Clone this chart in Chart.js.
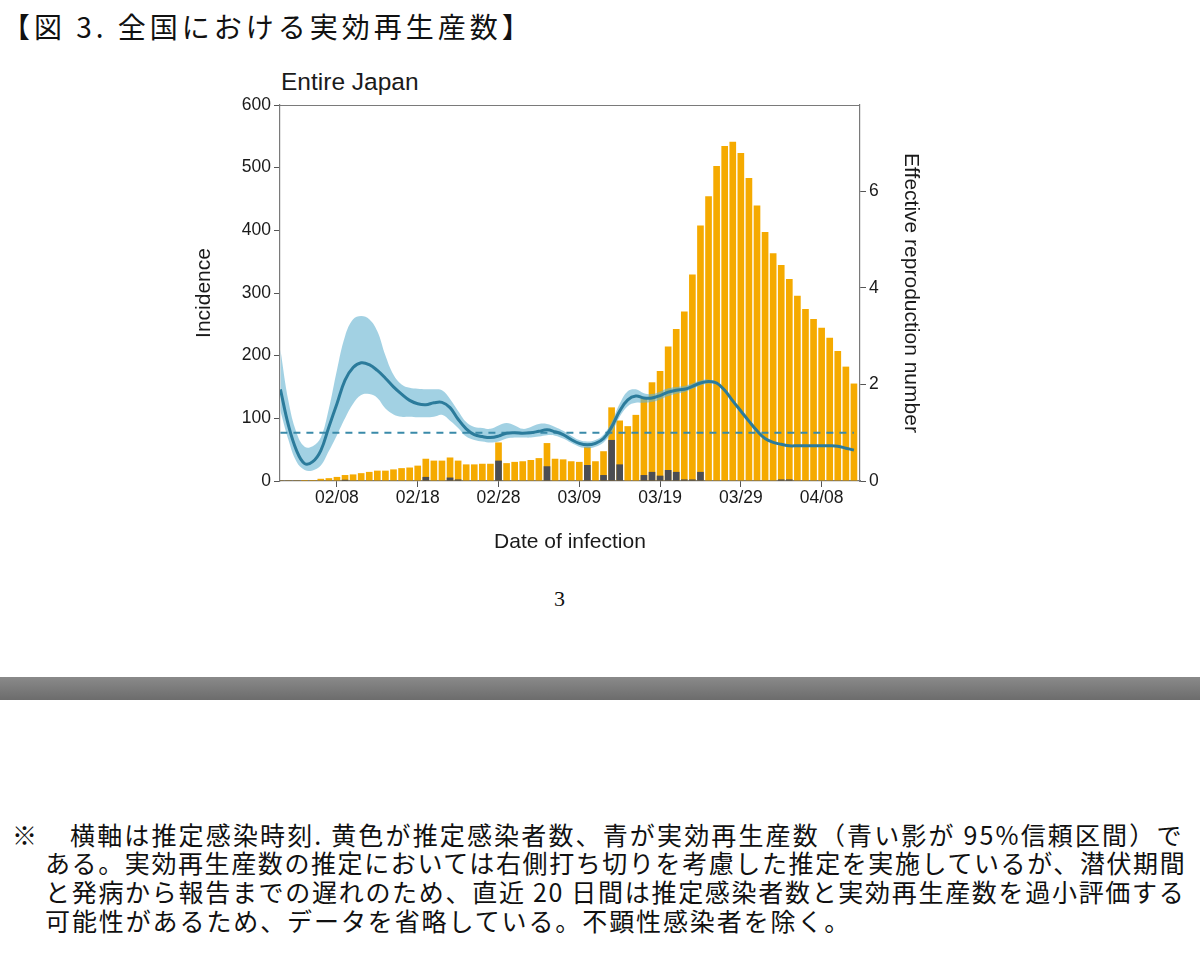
<!DOCTYPE html>
<html><head><meta charset="utf-8">
<script src="https://cdn.jsdelivr.net/npm/chart.js@4.4.0/dist/chart.umd.min.js"></script>
<style>
html,body{margin:0;padding:0;background:#fff;}
body{width:1200px;height:962px;position:relative;overflow:hidden;font-family:'Liberation Sans',Arial,sans-serif;color:#111;}
.jp{font-family:'Noto Sans CJK JP',sans-serif;position:absolute;white-space:pre;line-height:1;color:#111;}
.fn{font-size:25px;}
</style></head><body>
<div class="jp" style="left:2px;top:12px;font-size:28px;letter-spacing:4px;">【図 3. 全国における実効再生産数】</div>
<div style="position:absolute;left:281px;top:70px;font-size:24.5px;line-height:1;color:#1a1a1a;">Entire Japan</div>
<canvas id="c" width="760" height="510" style="position:absolute;left:180px;top:60px;"></canvas>
<div style="position:absolute;left:554px;top:588px;font-family:'Liberation Serif',serif;font-size:22px;line-height:1;">3</div>
<div style="position:absolute;left:0;top:677px;width:1200px;height:23px;background:linear-gradient(#8a8a8a,#6c6c6c);"></div>
<div class="jp fn" style="left:12px;top:822px;">※</div>
<div class="jp fn" style="left:70px;top:822px;letter-spacing:2.15px;">横軸は推定感染時刻. 黄色が推定感染者数、青が実効再生産数（青い影が 95%信頼区間）で</div>
<div class="jp fn" style="left:45px;top:850px;letter-spacing:1.6px;">ある。実効再生産数の推定においては右側打ち切りを考慮した推定を実施しているが、潜伏期間</div>
<div class="jp fn" style="left:45px;top:879px;letter-spacing:1.7px;">と発病から報告までの遅れのため、直近 20 日間は推定感染者数と実効再生産数を過小評価する</div>
<div class="jp fn" style="left:45px;top:908px;letter-spacing:1.9px;">可能性があるため、データを省略している。不顕性感染者を除く。</div>
<script>
const dates = ['02/01','02/02','02/03','02/04','02/05','02/06','02/07','02/08','02/09','02/10',
'02/11','02/12','02/13','02/14','02/15','02/16','02/17','02/18','02/19','02/20',
'02/21','02/22','02/23','02/24','02/25','02/26','02/27','02/28','02/29','03/01',
'03/02','03/03','03/04','03/05','03/06','03/07','03/08','03/09','03/10','03/11',
'03/12','03/13','03/14','03/15','03/16','03/17','03/18','03/19','03/20','03/21',
'03/22','03/23','03/24','03/25','03/26','03/27','03/28','03/29','03/30','03/31',
'04/01','04/02','04/03','04/04','04/05','04/06','04/07','04/08','04/09','04/10',
'04/11','04/12'];
const incidence = [0,0,0,0.5,1,3,4,6,9,10,
12,14,16,16,18,20,21,24,35,32,
32,37,32,26,26,27,27,61,28,30,
31,33,36,60,35,34,31,30,54,31,
47,117,96,87,105,132,157,175,214,242,
270,329,407,454,502,534,541,523,483,439,
397,363,344,322,295,274,258,244,228,207,
182,155];
const importedCases = [0,0,0,0,0,0,0,0,1.5,0,
0,0,0,0,0,0,0,0,6,0,
0,5,2,0,0,0,0,32,0,0,
0,0,0,23,0,0,0,0,25,0,
9,65,26,0,0,9,14,8,17,14,
2,2,14,0,0,0,0,0,0,0,
0,0,2,2,0,0,0,0,0,0,
0,0];
const rtMean = [1.9,1.15,0.63,0.36,0.4,0.63,1.12,1.6,2.09,2.35,
2.45,2.41,2.29,2.13,1.95,1.8,1.67,1.6,1.58,1.62,
1.63,1.52,1.28,1.08,0.96,0.92,0.9,0.93,0.99,1.0,
0.99,1.0,1.03,1.06,1.02,0.96,0.86,0.78,0.75,0.78,
0.88,1.12,1.45,1.68,1.76,1.72,1.72,1.77,1.84,1.88,
1.9,1.96,2.03,2.06,2.03,1.88,1.66,1.45,1.24,1.04,
0.88,0.8,0.76,0.73,0.73,0.73,0.73,0.73,0.73,0.72,
0.68,0.64];
const rtUpper = [2.72,1.65,1.0,0.71,0.72,0.9,1.5,2.3,3.0,3.35,
3.42,3.35,3.1,2.6,2.2,2.0,1.93,1.91,1.9,1.9,
1.88,1.7,1.45,1.22,1.12,1.1,1.08,1.15,1.2,1.15,
1.08,1.12,1.18,1.18,1.12,1.04,0.94,0.85,0.82,0.85,
0.96,1.22,1.6,1.86,1.9,1.82,1.8,1.85,1.92,1.95,
1.97,2.02,2.08,2.1,2.07,null,null,null,null,null,
null,null,null,null,null,null,null,null,null,null,
null,null];
const rtLower = [1.45,0.85,0.4,0.23,0.22,0.32,0.62,0.95,1.3,1.6,
1.78,1.8,1.72,1.5,1.38,1.33,1.33,1.32,1.32,1.33,
1.37,1.25,1.1,0.92,0.85,0.82,0.8,0.82,0.88,0.9,
0.9,0.9,0.92,0.95,0.94,0.88,0.79,0.71,0.68,0.71,
0.8,1.0,1.33,1.55,1.62,1.62,1.64,1.69,1.76,1.81,
1.84,1.91,1.98,2.02,2.0,null,null,null,null,null,
null,null,null,null,null,null,null,null,null,null,
null,null];
const xTickLabels = ['02/08','02/18','02/28','03/09','03/19','03/29','04/08'];
const incidenceTicks = [0,100,200,300,400,500,600];
const rtTicks = [0,2,4,6];
const rtThreshold = 1;

const pts = arr => arr.map((v,i)=>({x:i,y:v}));
const thresholdLine = dates.map((d,i)=>({x:i,y:rtThreshold}));

Chart.defaults.font.family = "'Liberation Sans', Arial, sans-serif";
Chart.defaults.color = '#1a1a1a';

const boxPlugin = {id:'box', afterDatasetsDraw(chart){
  const {ctx, chartArea:a} = chart;
  ctx.save(); ctx.strokeStyle='#7a7a7a'; ctx.lineWidth=1.2;
  ctx.beginPath(); ctx.moveTo(a.left, a.top+0.5); ctx.lineTo(a.right, a.top+0.5); ctx.stroke();
  ctx.restore();
}};

const tickGrid = {display:true, drawOnChartArea:false, color:'#555', tickLength:6, offset:false};
const border = {display:true, color:'#7a7a7a', width:1.2};

new Chart(document.getElementById('c'), {
  type:'bar',
  data:{datasets:[
    {type:'line', data:pts(rtMean), yAxisID:'y1', borderColor:'#2b7b9b', borderWidth:3, pointRadius:0, tension:0.4, fill:false, order:0},
    {type:'line', data:thresholdLine, yAxisID:'y1', borderColor:'#3a8aa9', borderWidth:2, borderDash:[7,6], pointRadius:0, fill:false, order:1},
    {type:'line', data:pts(rtUpper), yAxisID:'y1', borderWidth:0, borderColor:'rgba(0,0,0,0)', pointRadius:0, tension:0.4, fill:'+1', backgroundColor:'rgba(100,178,208,0.6)', order:2},
    {type:'line', data:pts(rtLower), yAxisID:'y1', borderWidth:0, borderColor:'rgba(0,0,0,0)', pointRadius:0, tension:0.4, fill:false, order:3},
    {type:'bar', data:pts(importedCases), yAxisID:'y', backgroundColor:'#4b4d53', barThickness:6, grouped:false, order:4},
    {type:'bar', data:pts(incidence), yAxisID:'y', backgroundColor:'#f5aa00', barThickness:6, grouped:false, order:5}
  ]},
  options:{
    responsive:false, animation:false, devicePixelRatio:1,
    layout:{padding:{top:45,left:0,right:0,bottom:0}},
    plugins:{legend:{display:false}, tooltip:{enabled:false}, title:{display:false}},
    scales:{
      x:{type:'linear', min:-0.05, max:71.75, offset:false, grid:tickGrid, border:border,
        afterBuildTicks:s=>{ s.ticks = xTickLabels.map(l=>({value:dates.indexOf(l)})); },
        ticks:{autoSkip:false, maxRotation:0, padding:1, font:{size:17.5}, callback:v=>dates[v]},
        title:{display:true, text:'Date of infection', font:{size:21}, padding:{top:0,bottom:15}},
        afterFit:s=>{ s.height = 89; }
      },
      y:{type:'linear', position:'left', min:0, max:600, grid:tickGrid, border:border,
        afterBuildTicks:s=>{ s.ticks = incidenceTicks.map(v=>({value:v})); },
        ticks:{padding:3, font:{size:17.5}},
        title:{display:true, text:'Incidence', font:{size:21}, padding:{top:12,bottom:0}},
        afterFit:s=>{ s.width = 100; }
      },
      y1:{type:'linear', position:'right', min:0, max:7.79, grid:tickGrid, border:border,
        afterBuildTicks:s=>{ s.ticks = rtTicks.map(v=>({value:v})); },
        ticks:{padding:3, font:{size:17.5}},
        title:{display:true, text:'Effective reproduction number', font:{size:21}, padding:{top:17,bottom:0}},
        afterFit:s=>{ s.width = 80; }
      }
    }
  },
  plugins:[boxPlugin]
});
</script>
</body></html>
